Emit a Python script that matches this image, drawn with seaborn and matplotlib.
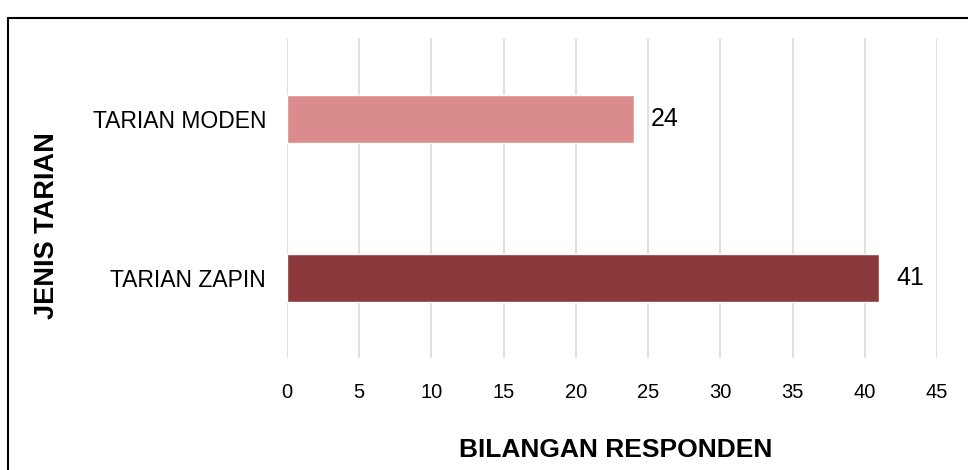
import matplotlib
matplotlib.use("Agg")
import matplotlib.pyplot as plt
import seaborn as sns
import pandas as pd
from matplotlib.patches import Rectangle

# data
categories = ["TARIAN MODEN", "TARIAN ZAPIN"]
responden = [24, 41]
bar_colors = ["#DA8C8C", "#8C393C"]
xticks = [0, 5, 10, 15, 20, 25, 30, 35, 40, 45]

df = pd.DataFrame({"jenis": categories, "bilangan": responden})

sns.set_style("white")
plt.rcParams["font.family"] = ["Liberation Sans", "DejaVu Sans"]
plt.rcParams["text.color"] = "black"
plt.rcParams["xtick.color"] = "black"
plt.rcParams["ytick.color"] = "black"

fig = plt.figure(figsize=(9.68, 4.70), dpi=100)
ax = fig.add_axes([0.2965, 0.2383, 0.6715, 0.6807])

sns.barplot(data=df, x="bilangan", y="jenis", hue="jenis", palette=bar_colors,
            legend=False, width=0.30, saturation=1, ax=ax)

ax.set_xlim(0, 45)
ax.set_ylim(1.503, -0.509)
ax.set_xticks(xticks)
ax.set_xticklabels([str(t) for t in xticks], fontsize=14.5,
                   family=["Liberation Sans Narrow", "Liberation Sans"])
ax.tick_params(axis="x", length=0, pad=18)
ax.tick_params(axis="y", length=0, pad=15, labelsize=16.5)

ax.grid(axis="x", color="#d9d9d9", linewidth=1.2)
ax.set_axisbelow(True)
for s in ax.spines.values():
    s.set_visible(False)

# value labels
for i, v in enumerate(responden):
    ax.text(v + 1.2, i, str(v), va="center", ha="left", fontsize=18)

ax.set_xlabel("")
ax.set_ylabel("")
fig.text(0.636, 0.0426, "BILANGAN RESPONDEN", ha="center", va="center",
         fontsize=19, fontweight="bold")
fig.text(0.0485, 0.521, "JENIS TARIAN", ha="center", va="center",
         rotation=90, fontsize=19.5, fontweight="bold")

# frame around chart
fig.patches.append(Rectangle((0.0085, -0.05), 1.2, 1.0117, transform=fig.transFigure,
                             fill=False, edgecolor="black", linewidth=1.5))

fig.savefig("out.png", dpi=100)
